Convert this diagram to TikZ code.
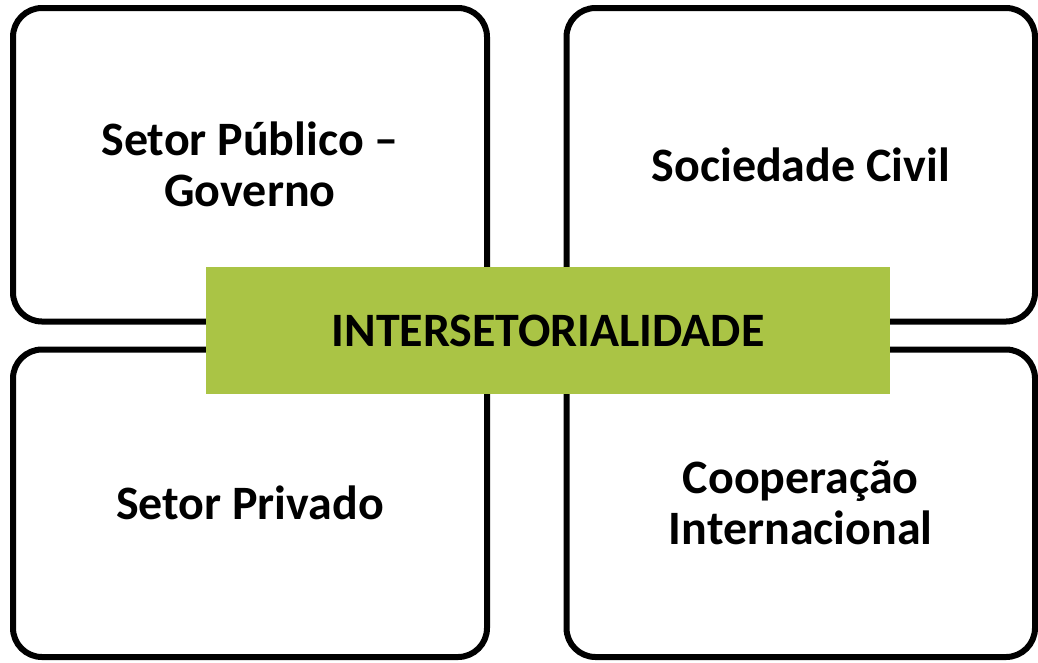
\documentclass[tikz,border=0pt]{standalone}
\usepackage{fontspec}
\setmainfont{Carlito}
\definecolor{olivegreen}{HTML}{AAC445}
\begin{document}
\begin{tikzpicture}[font=\fontsize{27.3}{29}\selectfont\bfseries, line join=round, line cap=round,
	setor/.style={draw, line width=0.12cm, rounded corners=0.58cm, align=center, inner sep=0pt},
	centro/.style={fill=olivegreen, minimum width=13.68cm, minimum height=2.54cm, inner sep=0pt}]
				\useasboundingbox (0,0) rectangle (20.76,-13.24);
				\def\xa{5.0} \def\xb{16.015} \def\ya{-3.295} \def\yb{-10.065}
				\foreach \n/\x/\y/\w/\h/\t in {publico/\xa/\ya/9.48/6.27/{Setor Público –\\Governo}, civil/\xb/\ya/9.37/6.27/{Sociedade Civil}, privado/\xa/\yb/9.48/6.15/{Setor Privado}, coop/\xb/\yb/9.37/6.15/{Cooperação\\Internacional}}{\node[setor, minimum width=\w cm, minimum height=\h cm] (\n) at (\x,\y) {\t};}
				\node[centro] (inter) at (10.96,-6.61) {INTERSETORIALIDADE};
			\end{tikzpicture}
\end{document}
